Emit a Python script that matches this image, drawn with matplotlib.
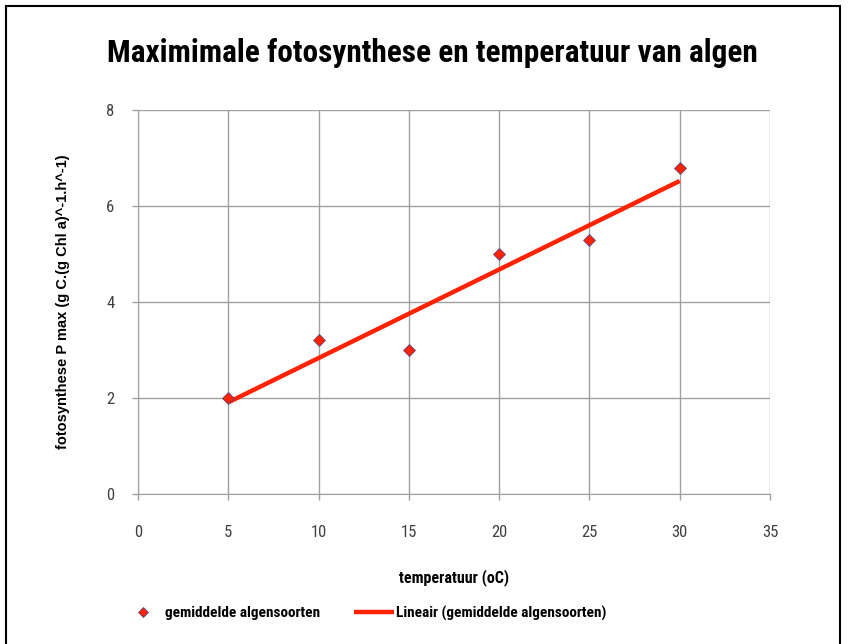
import numpy as np
import matplotlib.pyplot as plt
from matplotlib import font_manager
from matplotlib.font_manager import FontProperties
from matplotlib.patches import Rectangle

# data
temperatuur = [5, 10, 15, 20, 25, 30]
pmax = [2.0, 3.2, 3.0, 5.0, 5.3, 6.8]
x_ticks = [0, 5, 10, 15, 20, 25, 30, 35]
y_ticks = [0, 2, 4, 6, 8]


def _wt(f):
    w = f.weight
    if isinstance(w, str):
        w = {"bold": 700, "semibold": 600, "normal": 400, "regular": 400}.get(w, 400)
    return w


def narrow_font(bold, size):
    # the original uses an Arial Narrow look; take the closest narrow face we have
    order = ["Liberation Sans Narrow", "Roboto Condensed", "Open Sans Condensed",
             "DejaVu Sans"]
    for name in order:
        for f in font_manager.fontManager.ttflist:
            if f.name != name or f.style != "normal":
                continue
            if name == "DejaVu Sans" and "Condensed" not in f.fname:
                continue
            if (_wt(f) >= 600) == bold:
                return FontProperties(fname=f.fname, size=size)
    return FontProperties(family="Liberation Sans", weight="bold" if bold else "normal",
                          size=size, stretch="condensed")


plt.rcParams['font.family'] = ['Liberation Sans', 'DejaVu Sans']

fig = plt.figure(figsize=(8.48, 6.44), dpi=100)
ax = fig.add_axes([0.1627, 0.233, 0.7453, 0.596])

# linear trend like the spreadsheet "Lineair" trendline
slope, icpt = np.polyfit(temperatuur, pmax, 1)
xt = np.array([temperatuur[0], temperatuur[-1]])
line, = ax.plot(xt, slope * xt + icpt, color="#ff2200", lw=3.2, zorder=3,
                solid_capstyle="butt")
pts, = ax.plot(temperatuur, pmax, linestyle="none", marker="D", ms=6.5,
               mfc="#ff2200", mec="#5a4a8a", mew=0.6, zorder=4)

ax.set_xlim(0, 35)
ax.set_ylim(0, 8)
ax.set_xticks(x_ticks)
ax.set_yticks(y_ticks)
ax.grid(True, color="#a0a0a0", lw=1.0)
ax.set_axisbelow(True)
for s in ["top", "right"]:
    ax.spines[s].set_visible(False)
for s in ["left", "bottom"]:
    ax.spines[s].set_color("#a0a0a0")
ax.tick_params(colors="#a0a0a0", length=4, width=1, labelcolor="#404040")
ax.tick_params(axis="x", pad=18)
ax.tick_params(axis="y", pad=13)
tick_fp = narrow_font(False, 12)
for lab in ax.get_xticklabels() + ax.get_yticklabels():
    lab.set_fontproperties(tick_fp)

ax.set_xlabel("temperatuur (oC)", fontproperties=narrow_font(True, 11.5), labelpad=21)
ax.set_ylabel("fotosynthese P max (g C.(g Chl a)^-1.h^-1)", fontsize=10.5,
              fontweight="bold", labelpad=26)

title = fig.text(0.51, 0.917, "Maximimale fotosynthese en temperatuur van algen",
                 ha="center", va="center", fontproperties=narrow_font(True, 19))
# scale the title so it spans the same width as in the reference (~650 px)
r = fig.canvas.get_renderer()
w = title.get_window_extent(r).width
title.set_fontsize(19 * 650.0 / w)

fig.legend([pts, line], ["gemiddelde algensoorten", "Lineair (gemiddelde algensoorten)"],
           loc="center", bbox_to_anchor=(0.43, 0.048), ncol=2, frameon=False,
           prop=narrow_font(True, 11), columnspacing=2.2,
           handlelength=2.6, handletextpad=0.15, markerscale=0.8)

# outer frame of the chart
fig.patches.append(Rectangle((0.007, -0.01), 0.983, 1.0, transform=fig.transFigure,
                             fill=False, edgecolor="black", lw=1.5))

fig.savefig("out.png", dpi=100)
